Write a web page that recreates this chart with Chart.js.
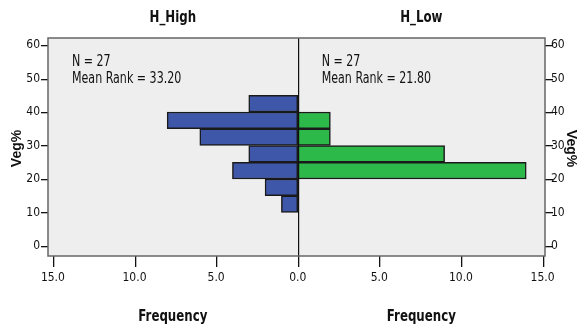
<!DOCTYPE html>
<html>
<head>
<meta charset="utf-8">
<script src="https://cdn.jsdelivr.net/npm/chart.js@4"></script>
<style>
  html, body { margin: 0; padding: 0; background: #fff; }
  #wrap { width: 577px; height: 329px; position: relative; }
</style>
</head>
<body>
<div id="wrap"><canvas id="myChart" width="577" height="329"></canvas></div>
<script>
// bins of Veg% (lower edges, width 5)
const binStarts = [10, 15, 20, 25, 30, 35, 40];
const highFreq = [1, 2, 4, 3, 6, 8, 3];    // H_High, drawn to the left
const lowFreq = [0, 0, 14, 9, 2, 2, 0];    // H_Low, drawn to the right
const binWidth = 5;
const yTicks = [0, 10, 20, 30, 40, 50, 60];
const xTicks = [-15, -10, -5, 0, 5, 10, 15];
const groupNames = ['H_High', 'H_Low'];
const groupN = [27, 27];
const meanRanks = ['33.20', '21.80'];

const FONT = "'DejaVu Sans Condensed', 'Liberation Sans Narrow', sans-serif";

function toPoints(freqs, sign) {
    return binStarts.map((b, i) => ({
        y: b + binWidth / 2,
        x: freqs[i] ? sign * freqs[i] : null
    }));
}

// narrow text: draw squeezed horizontally
function narrowText(ctx, text, x, y, sx) {
    ctx.save();
    ctx.translate(x, y);
    ctx.scale(sx, 1);
    ctx.fillText(text, 0, 0);
    ctx.restore();
}

const frame = {
    id: 'frame',
    beforeDraw(chart) {
        const { ctx, chartArea: a } = chart;
        ctx.save();
        ctx.fillStyle = '#eeeeee';
        ctx.fillRect(a.left, a.top, a.right - a.left, a.bottom - a.top);
        ctx.restore();
    },
    afterDraw(chart) {
        const { ctx, chartArea: a, scales } = chart;
        const x0 = scales.x.getPixelForValue(0);
        const bottom = Math.round(a.bottom);
        ctx.save();
        // tick marks below the plot (x) and beside it (y)
        ctx.fillStyle = '#111';
        xTicks.forEach(v => {
            const px = Math.round(scales.x.getPixelForValue(v));
            ctx.fillRect(px, bottom, 1.3, 11);
        });
        yTicks.forEach(v => {
            const py = Math.round(scales.y.getPixelForValue(v));
            ctx.fillRect(a.left - 7, py, 7, 1.3);
            ctx.fillRect(a.right, py, 8, 1.3);
        });
        // zero line
        ctx.fillRect(Math.round(x0), a.top, 1.2, a.bottom - a.top);
        // frame
        ctx.strokeStyle = '#666';
        ctx.lineWidth = 1.5;
        ctx.strokeRect(a.left, a.top, a.right - a.left, a.bottom - a.top);

        const centers = [(a.left + x0) / 2, (x0 + a.right) / 2];
        ctx.fillStyle = '#111';
        ctx.textAlign = 'center';
        ctx.textBaseline = 'middle';
        ctx.font = 'bold 16px ' + FONT;
        centers.forEach((cx, i) => {
            narrowText(ctx, groupNames[i], cx, 18, 0.82);
            narrowText(ctx, 'Frequency', cx, 317, 0.82);
        });
        // stats text
        ctx.font = '15px ' + FONT;
        ctx.textAlign = 'left';
        const sx = [a.left + 24, x0 + 24];
        sx.forEach((x, i) => {
            narrowText(ctx, 'N = ' + groupN[i], x, 62, 0.82);
            narrowText(ctx, 'Mean Rank = ' + meanRanks[i], x, 79, 0.82);
        });
        // Veg% titles
        const ym = scales.y.getPixelForValue(30);
        ctx.font = "bold 14px 'Liberation Sans', Arial, sans-serif";
        ctx.textAlign = 'center';
        ctx.save();
        ctx.translate(17, ym + 3);
        ctx.rotate(-Math.PI / 2);
        ctx.fillText('Veg%', 0, 0);
        ctx.restore();
        ctx.save();
        ctx.translate(571, ym + 3);
        ctx.rotate(Math.PI / 2);
        ctx.fillText('Veg%', 0, 0);
        ctx.restore();
        ctx.restore();
    }
};

function yScale(position, width, pad) {
    return {
        type: 'linear',
        position: position,
        min: -3,
        max: 62.1,
        offset: false,
        afterBuildTicks: (s) => { s.ticks = yTicks.map(v => ({ value: v })); },
        afterFit: (s) => { s.width = width; },
        grid: { display: false, drawTicks: false, offset: false },
        border: { display: false },
        ticks: {
            color: '#111',
            font: { family: FONT, size: 12 },
            padding: pad
        }
    };
}

new Chart('myChart', {
    type: 'bar',
    data: {
        datasets: [{
            label: groupNames[0],
            data: toPoints(highFreq, -1),
            backgroundColor: '#3f57a9',
            borderColor: '#1a1a1a',
            borderWidth: 1.5,
            borderSkipped: false
        }, {
            label: groupNames[1],
            data: toPoints(lowFreq, 1),
            backgroundColor: '#2db84a',
            borderColor: '#1a1a1a',
            borderWidth: 1.5,
            borderSkipped: false
        }]
    },
    plugins: [frame],
    options: {
        responsive: false,
        animation: false,
        indexAxis: 'y',
        layout: { padding: { top: 38, left: 0, right: 0, bottom: 0 } },
        datasets: { bar: { grouped: false, barPercentage: 1, categoryPercentage: 1 } },
        plugins: { legend: { display: false }, tooltip: { enabled: false } },
        scales: {
            x: {
                type: 'linear',
                min: -15.3,
                max: 15.15,
                offset: false,
                afterBuildTicks: (s) => { s.ticks = xTicks.map(v => ({ value: v })); },
                afterFit: (s) => { s.height = 73; },
                grid: { display: false, drawTicks: false },
                border: { display: false },
                ticks: {
                    color: '#111',
                    font: { family: FONT, size: 12 },
                    padding: 15,
                    maxRotation: 0,
                    callback: (v) => Math.abs(v).toFixed(1)
                }
            },
            y: yScale('left', 48, 8),
            y2: yScale('right', 32, 6)
        }
    }
});
</script>
</body>
</html>
